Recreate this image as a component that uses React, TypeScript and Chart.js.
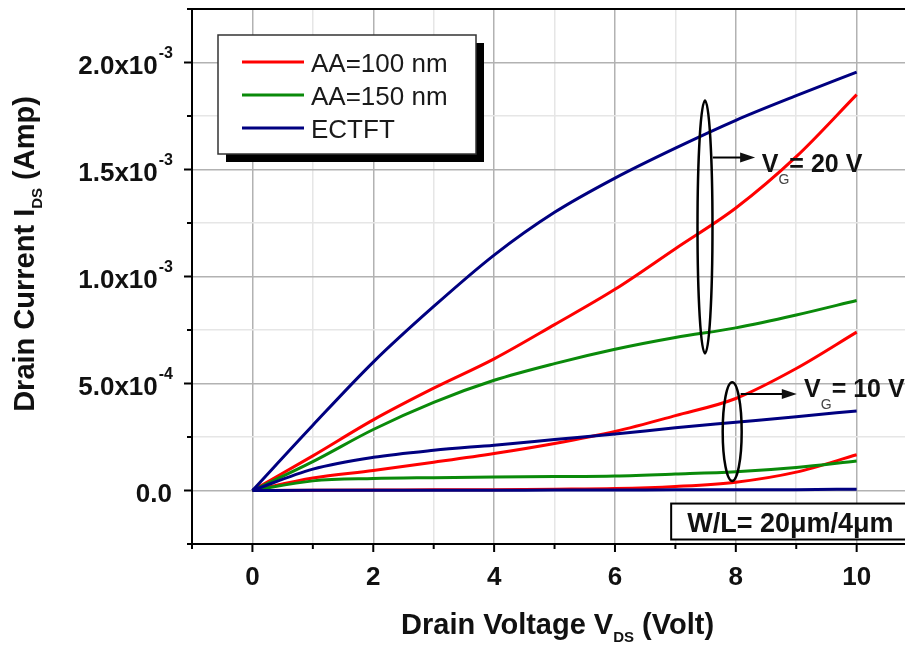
import React, { useEffect, useRef } from "react";
import { Chart, registerables } from "chart.js";

Chart.register(...registerables);

// Drain voltage V_DS (Volt)
const vds = [0, 1, 2, 3, 4, 5, 6, 7, 8, 9, 10];

// Drain current I_DS in units of 1e-4 A
const aa100High = [0, 1.62, 3.3, 4.78, 6.15, 7.75, 9.4, 11.3, 13.2, 15.6, 18.5];
const aa100Mid = [0, 0.58, 0.93, 1.32, 1.73, 2.2, 2.76, 3.5, 4.3, 5.7, 7.4];
const aa100Low = [0, 0.01, 0.02, 0.03, 0.04, 0.06, 0.09, 0.19, 0.39, 0.86, 1.67];

const aa150High = [0, 1.35, 2.85, 4.12, 5.15, 5.93, 6.6, 7.15, 7.6, 8.2, 8.88];
const aa150Mid = [0, 0.45, 0.56, 0.6, 0.63, 0.65, 0.68, 0.77, 0.88, 1.08, 1.38];

const ectftHigh = [0, 3.05, 6.0, 8.6, 11.0, 13.0, 14.6, 16.0, 17.3, 18.45, 19.55];
const ectftMid = [0, 1.0, 1.55, 1.88, 2.12, 2.38, 2.64, 2.93, 3.19, 3.45, 3.72];
const ectftLow = [0, 0.01, 0.01, 0.01, 0.01, 0.02, 0.02, 0.03, 0.03, 0.04, 0.06];

const seriesNames = ["AA=100 nm", "AA=150 nm", "ECTFT"];
const seriesColors = ["#ff0000", "#0a8a0a", "#000080"];

// axis tick labels
const xTickValues = [0, 2, 4, 6, 8, 10];
const xTickLabels = ["0", "2", "4", "6", "8", "10"];
const yTickValues = [0, 5, 10, 15, 20];
const yTickMantissa = ["0.0", "5.0x10", "1.0x10", "1.5x10", "2.0x10"];
const yTickExponent = ["", "-4", "-3", "-3", "-3"];

const xTitle = ["Drain Voltage V", "DS", " (Volt)"];
const yTitle = ["Drain Current I", "DS", " (Amp)"];
const vg20Label = ["V", "G", "= 20 V"];
const vg10Label = ["V", "G", "= 10 V"];
const wlLabel = "W/L= 20\u03bcm/4\u03bcm";

const FONT = '"Liberation Sans", Arial, Helvetica, sans-serif';

const toPts = (ys: number[]) => vds.map((x, i) => ({ x, y: ys[i] }));

function drawSubText(
  ctx: CanvasRenderingContext2D,
  parts: string[],
  x: number,
  y: number,
  bigFont: string,
  subFont: string,
  subDy: number,
  subColor: string,
  align: "left" | "center"
) {
  ctx.font = bigFont;
  const w0 = ctx.measureText(parts[0]).width;
  const w2 = ctx.measureText(parts[2]).width;
  ctx.font = subFont;
  const w1 = ctx.measureText(parts[1]).width;
  const total = w0 + w1 + w2;
  let sx = align === "center" ? x - total / 2 : x;
  ctx.textAlign = "left";
  ctx.textBaseline = "alphabetic";
  ctx.font = bigFont;
  ctx.fillText(parts[0], sx, y);
  ctx.font = subFont;
  const prev = ctx.fillStyle;
  ctx.fillStyle = subColor;
  ctx.fillText(parts[1], sx + w0, y + subDy);
  ctx.fillStyle = prev;
  ctx.font = bigFont;
  ctx.fillText(parts[2], sx + w0 + w1, y);
}

const decorPlugin = {
  id: "decor",
  afterDraw(chart: any) {
    const { ctx, chartArea: ca } = chart;
    const xs = chart.scales.x;
    const ys = chart.scales.y;
    const X = (v: number) => xs.getPixelForValue(v);
    const Y = (v: number) => ys.getPixelForValue(v);
    ctx.save();
    ctx.strokeStyle = "#000";
    ctx.fillStyle = "#111";
    ctx.lineWidth = 2;

    // top frame line
    ctx.beginPath();
    ctx.moveTo(ca.left - 1, ca.top);
    ctx.lineTo(ca.right, ca.top);
    ctx.stroke();

    // x tick marks
    for (let v = -1; v <= 10; v++) {
      const px = X(v);
      const len = v % 2 === 0 ? 8 : 5;
      ctx.beginPath();
      ctx.moveTo(px, ca.bottom);
      ctx.lineTo(px, ca.bottom + len);
      ctx.stroke();
    }
    // y tick marks
    for (let v = -2.5; v <= 22.5; v += 2.5) {
      const py = Y(v);
      const len = Math.abs(v % 5) < 1e-9 ? 8 : 5;
      ctx.beginPath();
      ctx.moveTo(ca.left - len, py);
      ctx.lineTo(ca.left, py);
      ctx.stroke();
    }

    // x tick labels
    ctx.font = `bold 26px ${FONT}`;
    ctx.textAlign = "center";
    ctx.textBaseline = "alphabetic";
    xTickValues.forEach((v, i) => {
      ctx.fillText(xTickLabels[i], X(v), ca.bottom + 41);
    });

    // y tick labels
    const rightEdge = ca.left - 20;
    yTickValues.forEach((v, i) => {
      const py = Y(v);
      ctx.font = `bold 16px ${FONT}`;
      const supW = yTickExponent[i] ? ctx.measureText(yTickExponent[i]).width : 0;
      ctx.textAlign = "right";
      if (yTickExponent[i]) ctx.fillText(yTickExponent[i], rightEdge + 1, py - 5);
      ctx.font = `bold 26px ${FONT}`;
      ctx.fillText(yTickMantissa[i], rightEdge - supW, py + 11);
    });

    // axis titles
    drawSubText(ctx, xTitle, X(5) + 3, 634, `bold 29px ${FONT}`, `bold 15px ${FONT}`, 8, "#111", "center");
    ctx.save();
    ctx.translate(34, 254);
    ctx.rotate(-Math.PI / 2);
    drawSubText(ctx, yTitle, 0, 0, `bold 29px ${FONT}`, `bold 15px ${FONT}`, 8, "#111", "center");
    ctx.restore();

    // ellipses + arrows + labels
    const ellipse = (xc: number, yc: number, rx: number, ry: number) => {
      const cx = X(xc);
      const cy = Y(yc);
      ctx.beginPath();
      ctx.ellipse(cx, cy, Math.abs(X(xc + rx) - cx), Math.abs(Y(yc + ry) - cy), 0, 0, Math.PI * 2);
      ctx.lineWidth = 2.5;
      ctx.stroke();
    };
    const arrow = (x0: number, x1: number, yv: number) => {
      const a = X(x0);
      const b = X(x1);
      const py = Y(yv);
      ctx.lineWidth = 2;
      ctx.beginPath();
      ctx.moveTo(a, py);
      ctx.lineTo(b - 12, py);
      ctx.stroke();
      ctx.beginPath();
      ctx.moveTo(b, py);
      ctx.lineTo(b - 15, py - 5);
      ctx.lineTo(b - 15, py + 5);
      ctx.closePath();
      ctx.fill();
    };
    ellipse(7.49, 12.31, 0.124, 5.91);
    arrow(7.62, 8.32, 15.56);
    drawSubText(ctx, vg20Label, X(8.43), Y(14.87), `bold 25px ${FONT}`, `14px ${FONT}`, 12, "#444", "left");
    ellipse(7.94, 2.75, 0.157, 2.31);
    arrow(8.08, 9.01, 4.51);
    drawSubText(ctx, vg10Label, X(9.13), Y(4.36), `bold 25px ${FONT}`, `14px ${FONT}`, 12, "#444", "left");

    // W/L box
    const bx = X(6.93);
    const by = Y(-0.61);
    const bb = Y(-2.29);
    ctx.fillStyle = "#fff";
    ctx.fillRect(bx, by, ca.right + 10 - bx, bb - by);
    ctx.lineWidth = 2;
    ctx.strokeRect(bx, by, ca.right + 10 - bx, bb - by);
    ctx.fillStyle = "#111";
    ctx.font = `bold 27px ${FONT}`;
    ctx.textAlign = "left";
    ctx.textBaseline = "alphabetic";
    ctx.fillText(wlLabel, bx + 16, bb - 8);

    // legend
    const lx = 218, ly = 35, lw = 258, lh = 119;
    ctx.fillStyle = "#000";
    ctx.fillRect(lx + 8, ly + 8, lw, lh);
    ctx.fillStyle = "#fff";
    ctx.fillRect(lx, ly, lw, lh);
    ctx.strokeStyle = "#333";
    ctx.lineWidth = 1.5;
    ctx.strokeRect(lx, ly, lw, lh);
    seriesNames.forEach((name, i) => {
      const cy = 62 + i * 33;
      ctx.strokeStyle = seriesColors[i];
      ctx.lineWidth = 3;
      ctx.beginPath();
      ctx.moveTo(242, cy);
      ctx.lineTo(304, cy);
      ctx.stroke();
      ctx.fillStyle = "#1a1a1a";
      ctx.font = `26px ${FONT}`;
      ctx.textAlign = "left";
      ctx.fillText(name, 311, cy + 9.5);
    });

    ctx.restore();
  },
};

export default function App() {
  const ref = useRef<HTMLCanvasElement | null>(null);
  useEffect(() => {
    document.body.style.margin = "0";
    if (!ref.current) return;
    const line = (data: number[], color: string, order: number) => ({
      data: toPts(data),
      borderColor: color,
      backgroundColor: color,
      borderWidth: 3,
      pointRadius: 0,
      cubicInterpolationMode: "monotone" as const,
      fill: false,
      order,
    });
    const chart = new Chart(ref.current, {
      type: "line",
      data: {
        datasets: [
          line(ectftHigh, seriesColors[2], 0),
          line(ectftMid, seriesColors[2], 0),
          line(ectftLow, seriesColors[2], 0),
          line(aa150High, seriesColors[1], 1),
          line(aa150Mid, seriesColors[1], 1),
          line(aa100High, seriesColors[0], 2),
          line(aa100Mid, seriesColors[0], 2),
          line(aa100Low, seriesColors[0], 2),
        ],
      },
      options: {
        animation: false,
        responsive: false,
        layout: { padding: { top: 9, left: 0, right: 0, bottom: 0 } },
        plugins: { legend: { display: false }, tooltip: { enabled: false } },
        scales: {
          x: {
            type: "linear",
            min: -1,
            max: 10.8,
            ticks: { display: false, stepSize: 1, includeBounds: false },
            grid: {
              drawTicks: false,
              lineWidth: 1.5,
              color: (c: any) => (c.tick && c.tick.value % 2 === 0 ? "#b2b2b2" : "#e6e6e6"),
            },
            border: { display: true, color: "#000", width: 2 },
            afterFit: (s: any) => {
              s.height = 101;
            },
          },
          y: {
            type: "linear",
            min: -2.5,
            max: 22.5,
            ticks: { display: false, stepSize: 2.5, includeBounds: false },
            grid: {
              drawTicks: false,
              lineWidth: 1.5,
              color: (c: any) => (c.tick && Math.abs(c.tick.value % 5) < 1e-9 ? "#b2b2b2" : "#e6e6e6"),
            },
            border: { display: true, color: "#000", width: 2 },
            afterFit: (s: any) => {
              s.width = 192;
            },
          },
        },
      },
      plugins: [decorPlugin],
    });
    return () => chart.destroy();
  }, []);
  return <canvas ref={ref} width={905} height={645} style={{ display: "block" }} />;
}
